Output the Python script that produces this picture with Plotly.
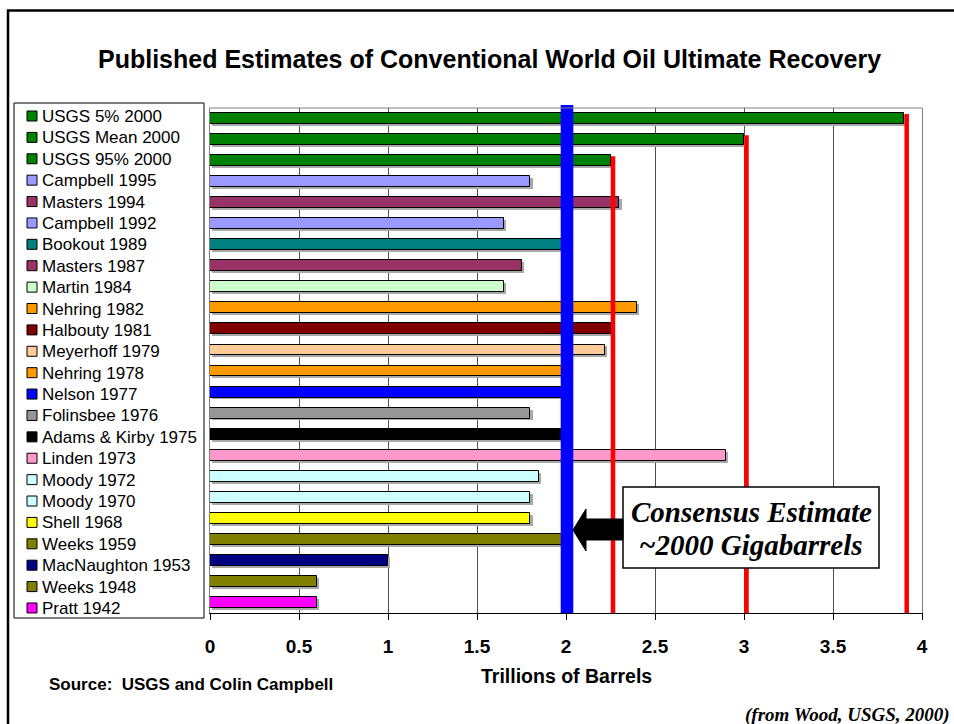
import plotly.graph_objects as go

# ---- data -------------------------------------------------------------
sources = [
    "USGS 5% 2000", "USGS Mean 2000", "USGS 95% 2000", "Campbell 1995",
    "Masters 1994", "Campbell 1992", "Bookout 1989", "Masters 1987",
    "Martin 1984", "Nehring 1982", "Halbouty 1981", "Meyerhoff 1979",
    "Nehring 1978", "Nelson 1977", "Folinsbee 1976", "Adams & Kirby 1975",
    "Linden 1973", "Moody 1972", "Moody 1970", "Shell 1968",
    "Weeks 1959", "MacNaughton 1953", "Weeks 1948", "Pratt 1942",
]
# ultimate recovery, trillions of barrels
estimates = [
    3.9, 3.0, 2.25, 1.8,
    2.3, 1.65, 2.0, 1.75,
    1.65, 2.4, 2.25, 2.22,
    2.0, 2.0, 1.8, 2.0,
    2.9, 1.85, 1.8, 1.8,
    2.0, 1.0, 0.6, 0.6,
]
bar_colors = [
    "#008000", "#008000", "#008000", "#9999FF",
    "#993366", "#9999FF", "#008080", "#993366",
    "#CCFFCC", "#FF9900", "#800000", "#FFCC99",
    "#FF9900", "#0000FF", "#969696", "#000000",
    "#FF99CC", "#CCFFFF", "#CCFFFF", "#FFFF00",
    "#808000", "#000080", "#808000", "#FF00FF",
]
usgs_count = 3          # first three rows are the USGS 2000 estimates
consensus = 2.0         # trillions of barrels
x_ticks = [0, 0.5, 1, 1.5, 2, 2.5, 3, 3.5, 4]

# ---- page geometry ----------------------------------------------------
W, H = 954, 724
L, R, T, B = 210, 32, 108, 111
PW, PH = W - L - R, H - T - B

SANS = "Liberation Sans, Arial, sans-serif"
SERIF = "Liberation Serif, Times New Roman, serif"


def fx(px):
    """pixel column -> paper x"""
    return (px - L) / PW


def fy(py):
    """pixel row -> paper y"""
    return (H - B - py) / PH


rows = list(range(len(sources)))
bar_w = 0.52

fig = go.Figure()

# soft drop shadow under each bar
fig.add_trace(go.Bar(
    x=estimates, y=rows, orientation="h", base=0.012,
    width=bar_w, offset=-bar_w / 2 + 0.09,
    marker=dict(color="#a8a8a8", line=dict(width=0)),
    hoverinfo="skip", showlegend=False,
))
fig.add_trace(go.Bar(
    x=estimates, y=rows, orientation="h", width=bar_w,
    marker=dict(color=bar_colors, line=dict(color="black", width=1)),
    text=sources, hovertemplate="%{text}: %{x}<extra></extra>",
    textposition="none", showlegend=False,
))

shapes = []
# USGS range markers
for i in range(usgs_count):
    shapes.append(dict(
        type="line", xref="x", yref="y", xsizemode="pixel",
        xanchor=estimates[i], x0=2.5, x1=2.5,
        y0=i - bar_w / 2 + 0.05, y1=len(sources) - 0.5,
        line=dict(color="#FF0000", width=4.5), layer="above",
    ))
# consensus line
shapes.append(dict(
    type="rect", xref="x", yref="paper", xsizemode="pixel",
    xanchor=consensus, x0=-5.3, x1=7.3, y0=0, y1=fy(105),
    fillcolor="#0000FF", line=dict(width=0), layer="above",
))
# top frame edge of the plot area
shapes.append(dict(type="line", xref="paper", yref="paper", x0=0, x1=1,
                   y0=1, y1=1, line=dict(color="#808080", width=1)))
# outer frame
shapes.append(dict(type="rect", xref="paper", yref="paper",
                   x0=fx(8), x1=fx(962), y0=fy(10.5), y1=fy(732),
                   line=dict(color="black", width=2.5)))
# legend box
shapes.append(dict(type="rect", xref="paper", yref="paper",
                   x0=fx(14), x1=fx(204), y0=fy(103), y1=fy(618),
                   fillcolor="white", line=dict(color="black", width=1)))
# callout box and arrow
shapes.append(dict(type="rect", xref="paper", yref="paper",
                   x0=fx(623), x1=fx(879), y0=fy(487), y1=fy(568),
                   fillcolor="white", line=dict(color="black", width=1.5),
                   layer="above"))
arrow_pts = [(573, 530), (586, 509), (586, 519), (623, 519),
             (623, 540), (586, 540), (586, 551)]
path = "M " + " L ".join(f"{fx(x):.5f},{fy(y):.5f}" for x, y in arrow_pts) + " Z"
shapes.append(dict(type="path", xref="paper", yref="paper", path=path,
                   fillcolor="black", line=dict(color="black", width=1),
                   layer="above"))

annotations = []
# legend entries
leg_top, leg_step = 116.0, 21.39
for i, (name, col) in enumerate(zip(sources, bar_colors)):
    cy = leg_top + i * leg_step
    shapes.append(dict(type="rect", xref="paper", yref="paper",
                       x0=fx(27), x1=fx(37), y0=fy(cy - 5), y1=fy(cy + 5),
                       fillcolor=col, line=dict(color="black", width=1)))
    annotations.append(dict(
        xref="paper", yref="paper", x=fx(40), y=fy(cy + 0.5),
        xanchor="left", yanchor="middle", showarrow=False, text=name,
        font=dict(family=SANS, size=17, color="black"),
    ))

annotations += [
    dict(xref="paper", yref="paper", x=fx(489.5), y=fy(59),
         xanchor="center", yanchor="middle", showarrow=False,
         text="Published Estimates of Conventional World Oil Ultimate Recovery",
         font=dict(family=SANS, size=25, color="black", weight="bold")),
    dict(xref="paper", yref="paper", x=0.5, y=fy(676),
         xanchor="center", yanchor="middle", showarrow=False,
         text="Trillions of Barrels",
         font=dict(family=SANS, size=19.5, color="black", weight="bold")),
    dict(xref="paper", yref="paper", x=fx(47), y=fy(684),
         xanchor="left", yanchor="middle", showarrow=False,
         text="Source:  USGS and Colin Campbell",
         font=dict(family=SANS, size=17, color="black", weight="bold")),
    dict(xref="paper", yref="paper", x=fx(952), y=fy(715),
         xanchor="right", yanchor="middle", showarrow=False,
         text="(from Wood, USGS, 2000)",
         font=dict(family=SERIF, size=19, color="black", weight="bold",
                   style="italic")),
    dict(xref="paper", yref="paper", x=fx(751), y=fy(512),
         xanchor="center", yanchor="middle", showarrow=False,
         text="Consensus Estimate",
         font=dict(family=SERIF, size=29, color="black", weight="bold",
                   style="italic")),
    dict(xref="paper", yref="paper", x=fx(751), y=fy(545),
         xanchor="center", yanchor="middle", showarrow=False,
         text="~2000 Gigabarrels",
         font=dict(family=SERIF, size=29, color="black", weight="bold",
                   style="italic")),
]

fig.update_layout(
    width=W, height=H,
    margin=dict(l=L, r=R, t=T, b=B, pad=0),
    paper_bgcolor="white", plot_bgcolor="white",
    barmode="overlay", bargap=0,
    showlegend=False,
    shapes=shapes, annotations=annotations,
    font=dict(family=SANS, color="black"),
    xaxis=dict(
        range=[0, 4], tickvals=x_ticks, ticktext=[f"{v:g}" for v in x_ticks],
        showgrid=True, gridcolor="#505050", gridwidth=1,
        zeroline=False, showline=True, linecolor="black", linewidth=1,
        ticks="outside", ticklen=6, tickcolor="black", tickwidth=1,
        ticklabelstandoff=10,
        tickfont=dict(family=SANS, size=19, color="black", weight="bold"),
        fixedrange=True,
    ),
    yaxis=dict(
        range=[len(sources) - 0.5, -0.5], showticklabels=False,
        showgrid=False, zeroline=False, showline=True,
        linecolor="#808080", linewidth=1, mirror=True, ticks="",
        fixedrange=True,
    ),
)

fig.write_html("out.html")
